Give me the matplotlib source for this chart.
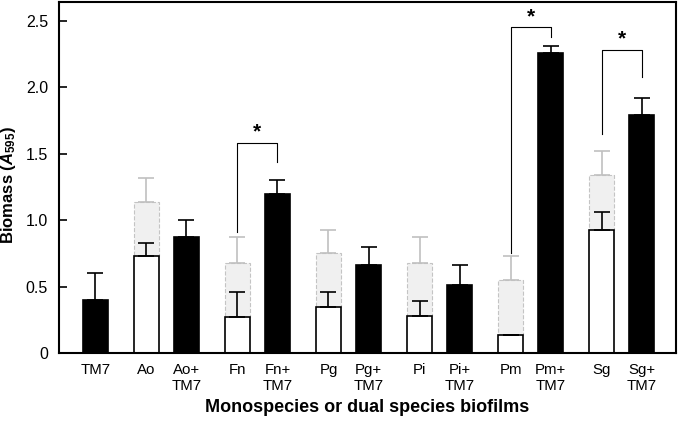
import numpy as np
import matplotlib
matplotlib.use("Agg")
from matplotlib import pyplot as plt

plt.rcParams['font.family'] = ['Liberation Sans', 'DejaVu Sans']
plt.rcParams['mathtext.fontset'] = 'custom'
plt.rcParams['mathtext.rm'] = 'Liberation Sans:bold'
plt.rcParams['mathtext.it'] = 'Liberation Sans:italic:bold'
plt.rcParams['mathtext.bf'] = 'Liberation Sans:bold'

## data ##
species = ["Ao", "Fn", "Pg", "Pi", "Pm", "Sg"]
tm7_mean = 0.40
tm7_err = 0.20
mono_mean = [0.73, 0.27, 0.35, 0.28, 0.14, 0.93]
mono_err = [0.10, 0.19, 0.11, 0.11, 0.0, 0.13]
expected_mean = [1.14, 0.68, 0.75, 0.68, 0.55, 1.34]   # mono + TM7
expected_err = [0.18, 0.19, 0.18, 0.19, 0.18, 0.18]
dual_mean = [0.87, 1.20, 0.66, 0.51, 2.26, 1.79]
dual_err = [0.13, 0.10, 0.14, 0.15, 0.05, 0.13]

# significance brackets
sig_species = ["Fn", "Pm", "Sg"]
bracket_top = [1.58, 2.45, 2.28]
bracket_left = [0.91, 0.75, 1.65]
bracket_right = [1.44, 2.38, 2.08]

yticks = [0, 0.5, 1.0, 1.5, 2.0, 2.5]
ytick_labels = ["0", "0.5", "1.0", "1.5", "2.0", "2.5"]

## positions ##
pair_step = 2.275
x_tm7 = 0.0
x_mono = np.array([1.275 + i * pair_step for i in range(len(species))])
x_dual = x_mono + 1.0
w = 0.63

fig = plt.figure(figsize=(6.8, 4.25), dpi=100)
ax = fig.add_axes([0.087, 0.169, 0.907, 0.826])

# expected (mono + TM7) grey dashed bars
ax.bar(x_mono, np.array(expected_mean) - np.array(mono_mean), w, bottom=mono_mean,
       color='#f0f0f0', edgecolor='#c4c4c4', linestyle='--', linewidth=0.8, zorder=1)
ax.errorbar(x_mono, expected_mean, yerr=[np.zeros(6), expected_err], fmt='none',
            ecolor='#c0c0c0', elinewidth=1.2, capsize=5.5, capthick=1.2, zorder=1)

# mono bars
ax.bar(x_mono, mono_mean, w, color='white', edgecolor='black', linewidth=1.2, zorder=2)
ax.errorbar(x_mono, mono_mean, yerr=[np.zeros(6), mono_err], fmt='none',
            ecolor='black', elinewidth=1.2, capsize=5.5, capthick=1.2, zorder=2)

# TM7 and dual bars
ax.bar([x_tm7], [tm7_mean], w, color='black', edgecolor='black', linewidth=1.2, zorder=2)
ax.errorbar([x_tm7], [tm7_mean], yerr=[[0], [tm7_err]], fmt='none',
            ecolor='black', elinewidth=1.2, capsize=5.5, capthick=1.2, zorder=2)
ax.bar(x_dual, dual_mean, w, color='black', edgecolor='black', linewidth=1.2, zorder=2)
ax.errorbar(x_dual, dual_mean, yerr=[np.zeros(6), dual_err], fmt='none',
            ecolor='black', elinewidth=1.2, capsize=5.5, capthick=1.2, zorder=2)

# brackets
for s, top, yl, yr in zip(sig_species, bracket_top, bracket_left, bracket_right):
    i = species.index(s)
    xl, xr = x_mono[i], x_dual[i]
    ax.plot([xl, xl, xr, xr], [yl, top, top, yr], color='black', linewidth=0.8, zorder=3)
    ax.text((xl + xr) / 2, top + 0.01, "*", ha='center', va='bottom', fontsize=15,
            fontweight='bold')

## axes ##
xpos = [x_tm7]
labels = ["TM7"]
for i, s in enumerate(species):
    xpos += [x_mono[i], x_dual[i]]
    labels += [s, s + "+\nTM7"]
ax.set_xticks(xpos)
ax.set_xticklabels(labels, fontsize=10.8, va='top', linespacing=1.15)
ax.tick_params(axis='x', length=0, pad=7)
ax.set_yticks(yticks)
ax.set_yticklabels(ytick_labels, fontsize=11.5)
ax.tick_params(axis='y', direction='in', length=6, width=1.2, pad=8)
ax.set_xlim(-0.9, 14.5)
ax.set_ylim(0, 2.64)
for sp in ax.spines.values():
    sp.set_linewidth(1.5)

ax.set_ylabel(r"Biomass ($\mathit{A}_{\mathbf{595}}$)", fontsize=12, fontweight='bold')
ax.yaxis.set_label_coords(-0.066, 0.48)
ax.set_xlabel("Monospecies or dual species biofilms", fontsize=13, fontweight='bold', labelpad=5)

plt.savefig("out.png", dpi=100)
